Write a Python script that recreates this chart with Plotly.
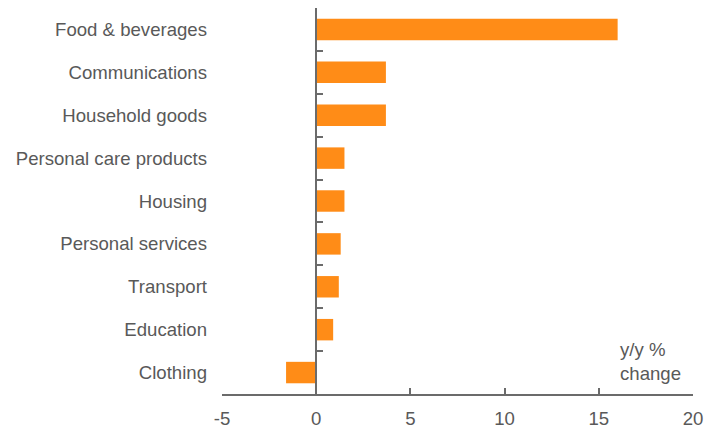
import plotly.graph_objects as go

categories = ["Food & beverages", "Communications", "Household goods",
              "Personal care products", "Housing", "Personal services",
              "Transport", "Education", "Clothing"]
values = [16.0, 3.7, 3.7, 1.5, 1.5, 1.3, 1.2, 0.9, -1.6]
x_tick_vals = [-5, 0, 5, 10, 15, 20]
x_tick_text = ["-5", "0", "5", "10", "15", "20"]
unit_label = "y/y %<br>change"

BAR = "#FF8C17"
TEXT = "#595959"
LINE = "#6b6b6b"
FONT = "Liberation Sans, Arial, sans-serif"
FS = 18.6

fig = go.Figure()
fig.add_trace(go.Bar(x=values, y=categories, orientation="h",
                     marker=dict(color=BAR, line=dict(width=0)),
                     width=0.5, showlegend=False))
fig.add_trace(go.Bar(x=values, y=categories, orientation="h", yaxis="y2",
                     marker=dict(color="rgba(0,0,0,0)", line=dict(width=0)),
                     width=0.5, showlegend=False, hoverinfo="skip"))

fig.update_layout(
    width=712, height=424,
    margin=dict(l=214, r=27, t=0, b=38),
    paper_bgcolor="white", plot_bgcolor="white",
    barmode="overlay",
    font=dict(family=FONT, size=FS, color=TEXT),
    xaxis=dict(range=[-5, 20], tickvals=x_tick_vals, ticktext=x_tick_text,
               ticks="inside", ticklen=6, tickwidth=1.5, tickcolor=LINE,
               showline=True, linecolor=LINE, linewidth=2,
               showgrid=False, zeroline=False, ticklabelstandoff=7,
               tickfont=dict(size=FS, color=TEXT, family=FONT)),
    yaxis=dict(type="category", categoryorder="array", categoryarray=categories,
               autorange="reversed", showgrid=False, zeroline=False,
               showline=False, ticks="", ticklabelstandoff=14,
               tickfont=dict(size=FS, color=TEXT, family=FONT)),
    yaxis2=dict(type="category", categoryorder="array", categoryarray=categories,
                autorange="reversed", overlaying="y", anchor="free",
                position=0.2, side="left", showticklabels=False,
                ticks="inside", ticklen=6, tickwidth=1.5, tickcolor=LINE,
                tickson="boundaries", showline=True, linecolor=LINE,
                linewidth=2, showgrid=False, zeroline=False),
    annotations=[dict(text=unit_label, x=16.0, xref="x", xanchor="left",
                      y=0.085, yref="paper", yanchor="middle", align="left",
                      showarrow=False,
                      font=dict(size=FS, color=TEXT, family=FONT))],
)

fig.write_html("out.html")
